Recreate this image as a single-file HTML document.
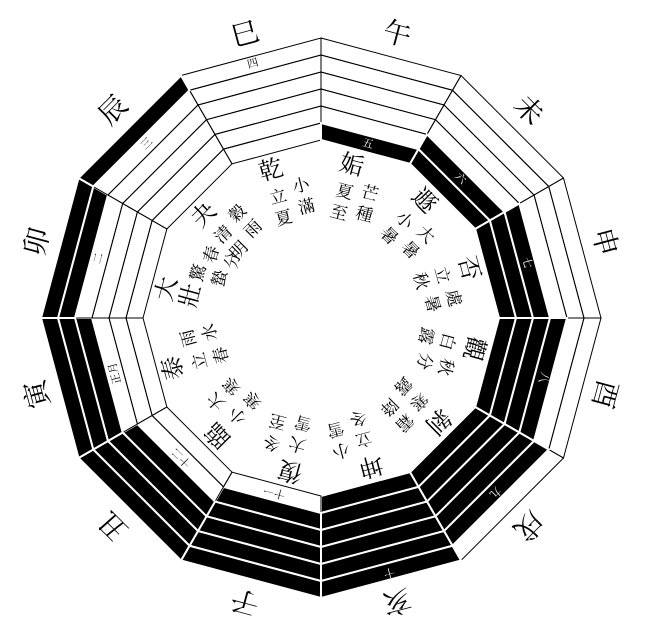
<!DOCTYPE html>
<html><head><meta charset="utf-8">
<style>
html,body{margin:0;padding:0;background:#fff;}
svg{display:block;}
.w{fill:none;stroke:#000;stroke-width:1}
.k{fill:#000;stroke:#fff;stroke-width:2}
text{font-family:"Liberation Serif","Noto Serif CJK SC","Noto Sans CJK SC",serif;text-anchor:middle;dominant-baseline:central;fill:#000}
.br{font-size:28px}
.nm{font-size:24px}
.t{font-size:17px}
.n{font-size:11px}
.nw{font-size:11px;fill:#fff}
</style></head>
<body>
<svg width="648" height="628" viewBox="0 0 648 628" xmlns="http://www.w3.org/2000/svg">
<defs>
<polygon id="b1" points="-50.47,-188.35 50.47,-188.35 46.07,-171.93 -46.07,-171.93"/>
<polygon id="b2" points="-54.87,-204.77 54.87,-204.77 50.47,-188.35 -50.47,-188.35"/>
<polygon id="b3" points="-59.27,-221.19 59.27,-221.19 54.87,-204.77 -54.87,-204.77"/>
<polygon id="b4" points="-63.67,-237.61 63.67,-237.61 59.27,-221.19 -59.27,-221.19"/>
<polygon id="b5" points="-68.07,-254.03 68.07,-254.03 63.67,-237.61 -63.67,-237.61"/>
<polygon id="b6" points="-72.47,-270.45 72.47,-270.45 68.07,-254.03 -68.07,-254.03"/>
</defs>
<g transform="translate(321,318)">

<g transform="rotate(-15)">
<use href="#b1" class="w"/><use href="#b2" class="w"/><use href="#b3" class="w"/><use href="#b4" class="w"/><use href="#b5" class="w"/><use href="#b6" class="w"/>
<text class="br" x="0" y="-293">巳</text><text class="n" x="0" y="-263">四</text>
<text class="nm" x="-10" y="-155">乾</text><text class="t" x="-10" y="-128">立</text><text class="t" x="-10" y="-106">夏</text>
<text class="t" x="15" y="-133">小</text><text class="t" x="15" y="-111">滿</text>
</g>

<g transform="rotate(15)">
<use href="#b2" class="w"/><use href="#b3" class="w"/><use href="#b4" class="w"/><use href="#b5" class="w"/><use href="#b6" class="w"/>
<use href="#b1" class="k"/>
<text class="br" x="0" y="-293">午</text><text class="nw" x="0" y="-180">五</text>
<text class="nm" x="-10" y="-155">姤</text><text class="t" x="-10" y="-128">夏</text><text class="t" x="-10" y="-106">至</text>
<text class="t" x="15" y="-133">芒</text><text class="t" x="15" y="-111">種</text>
</g>

<g transform="rotate(45)">
<use href="#b3" class="w"/><use href="#b4" class="w"/><use href="#b5" class="w"/><use href="#b6" class="w"/>
<use href="#b1" class="k"/><use href="#b2" class="k"/>
<text class="br" x="0" y="-293">未</text><text class="nw" x="0" y="-197">六</text>
<text class="nm" x="-10" y="-155">遯</text><text class="t" x="-10" y="-128">小</text><text class="t" x="-10" y="-106">暑</text>
<text class="t" x="15" y="-133">大</text><text class="t" x="15" y="-111">暑</text>
</g>

<g transform="rotate(75)">
<use href="#b4" class="w"/><use href="#b5" class="w"/><use href="#b6" class="w"/>
<use href="#b1" class="k"/><use href="#b2" class="k"/><use href="#b3" class="k"/>
<text class="br" x="0" y="-293">申</text><text class="nw" x="0" y="-213">七</text>
<text class="nm" x="-10" y="-155">否</text><text class="t" x="-10" y="-128">立</text><text class="t" x="-10" y="-106">秋</text>
<text class="t" x="15" y="-133">處</text><text class="t" x="15" y="-111">暑</text>
</g>

<g transform="rotate(105)">
<use href="#b5" class="w"/><use href="#b6" class="w"/>
<use href="#b1" class="k"/><use href="#b2" class="k"/><use href="#b3" class="k"/><use href="#b4" class="k"/>
<text class="br" x="0" y="-293">酉</text><text class="nw" x="0" y="-230">八</text>
<text class="nm" x="-10" y="-155">觀</text><text class="t" x="-10" y="-128">白</text><text class="t" x="-10" y="-106">露</text>
<text class="t" x="15" y="-133">秋</text><text class="t" x="15" y="-111">分</text>
</g>

<g transform="rotate(135)">
<use href="#b6" class="w"/>
<use href="#b1" class="k"/><use href="#b2" class="k"/><use href="#b3" class="k"/><use href="#b4" class="k"/><use href="#b5" class="k"/>
<text class="br" x="0" y="-293">戌</text><text class="nw" x="0" y="-246">九</text>
<text class="nm" x="-10" y="-155">剝</text><text class="t" x="-10" y="-128">寒</text><text class="t" x="-10" y="-106">露</text>
<text class="t" x="15" y="-133">霜</text><text class="t" x="15" y="-111">降</text>
</g>

<g transform="rotate(165)">
<use href="#b1" class="k"/><use href="#b2" class="k"/><use href="#b3" class="k"/><use href="#b4" class="k"/><use href="#b5" class="k"/><use href="#b6" class="k"/>
<text class="br" x="0" y="-293">亥</text><text class="nw" x="0" y="-263">十</text>
<text class="nm" x="-10" y="-155">坤</text><text class="t" x="-10" y="-128">立</text><text class="t" x="-10" y="-106">冬</text>
<text class="t" x="15" y="-133">小</text><text class="t" x="15" y="-111">雪</text>
</g>

<g transform="rotate(195)">
<use href="#b1" class="w"/>
<use href="#b2" class="k"/><use href="#b3" class="k"/><use href="#b4" class="k"/><use href="#b5" class="k"/><use href="#b6" class="k"/>
<text class="br" x="0" y="-293">子</text><text class="n" x="0" y="-180">十一</text>
<text class="nm" x="-10" y="-155">復</text><text class="t" x="-10" y="-128">大</text><text class="t" x="-10" y="-106">雪</text>
<text class="t" x="15" y="-133">冬</text><text class="t" x="15" y="-111">至</text>
</g>

<g transform="rotate(225)">
<use href="#b1" class="w"/><use href="#b2" class="w"/>
<use href="#b3" class="k"/><use href="#b4" class="k"/><use href="#b5" class="k"/><use href="#b6" class="k"/>
<text class="br" x="0" y="-293">丑</text><text class="n" x="0" y="-197">十二</text>
<text class="nm" x="-10" y="-155">臨</text><text class="t" x="-10" y="-128">小</text><text class="t" x="-10" y="-106">寒</text>
<text class="t" x="15" y="-133">大</text><text class="t" x="15" y="-111">寒</text>
</g>

<g transform="rotate(255)">
<use href="#b1" class="w"/><use href="#b2" class="w"/><use href="#b3" class="w"/>
<use href="#b4" class="k"/><use href="#b5" class="k"/><use href="#b6" class="k"/>
<text class="br" x="0" y="-293">寅</text><text class="n" x="0" y="-213">正月</text>
<text class="nm" x="-10" y="-155">泰</text><text class="t" x="-10" y="-128">立</text><text class="t" x="-10" y="-106">春</text>
<text class="t" x="15" y="-133">雨</text><text class="t" x="15" y="-111">水</text>
</g>

<g transform="rotate(285)">
<use href="#b1" class="w"/><use href="#b2" class="w"/><use href="#b3" class="w"/><use href="#b4" class="w"/>
<use href="#b5" class="k"/><use href="#b6" class="k"/>
<text class="br" x="0" y="-293">卯</text><text class="n" x="0" y="-230">二</text>
<text class="nm" x="-12" y="-156">大</text><text class="nm" x="-12" y="-131">壯</text>
<text class="t" x="12" y="-130">驚</text><text class="t" x="12" y="-108">蟄</text>
<text class="t" x="33" y="-122">春</text><text class="t" x="33" y="-100">分</text>
</g>

<g transform="rotate(315)">
<use href="#b1" class="w"/><use href="#b2" class="w"/><use href="#b3" class="w"/><use href="#b4" class="w"/><use href="#b5" class="w"/>
<use href="#b6" class="k"/>
<text class="br" x="0" y="-293">辰</text><text class="n" x="0" y="-246">三</text>
<text class="nm" x="-10" y="-155">夬</text><text class="t" x="-10" y="-128">清</text><text class="t" x="-10" y="-106">明</text>
<text class="t" x="15" y="-133">穀</text><text class="t" x="15" y="-111">雨</text>
</g>

</g>
</svg>
</body></html>
